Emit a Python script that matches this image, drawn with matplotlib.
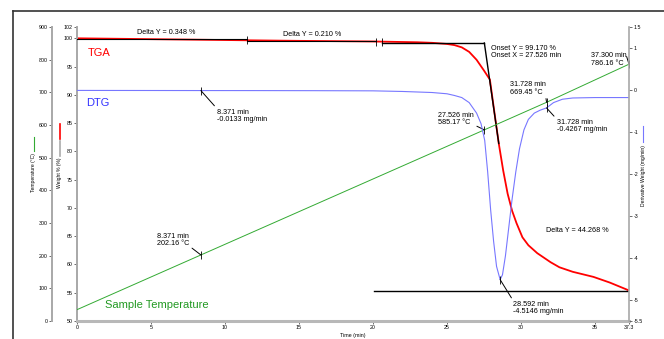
import matplotlib
matplotlib.use('Agg')
import matplotlib.pyplot as plt
from matplotlib.lines import Line2D
import numpy as np

plt.rcParams['font.family'] = ['Liberation Sans', 'DejaVu Sans']

# weight loss (TGA), %
tga_time = [0, 5, 11.5, 15, 20, 23, 24, 25, 25.5, 26, 26.5, 27, 27.5, 27.9, 28.2, 28.5,
            28.8, 29.1, 29.4, 29.7, 30.1, 30.5, 31.1, 32, 32.6, 33.5, 34.9, 36, 37.3]
tga_weight = [100.0, 99.85, 99.65, 99.55, 99.44, 99.3, 99.2, 99.0, 98.8, 98.4, 97.6, 96.2,
              94.3, 92.7, 87.0, 81.4, 76.6, 72.5, 69.5, 67.3, 64.8, 63.4, 62.0, 60.4,
              59.5, 58.7, 57.8, 56.8, 55.4]

# derivative weight (DTG), mg/min
dtg_time = [0, 5, 8.371, 12, 16, 20, 22, 24, 25, 25.5, 26, 26.5, 27, 27.3, 27.55, 27.75,
            27.95, 28.15, 28.35, 28.592, 28.75, 28.95, 29.15, 29.4, 29.65, 29.9, 30.2,
            30.5, 30.9, 31.3, 31.728, 32.2, 32.8, 33.5, 35, 37.3]
dtg_value = [-0.01, -0.012, -0.0133, -0.014, -0.016, -0.02, -0.035, -0.06, -0.09, -0.13,
             -0.18, -0.3, -0.55, -0.8, -1.2, -1.95, -2.85, -3.6, -4.2, -4.5146, -4.4,
             -3.95, -3.35, -2.6, -1.95, -1.4, -0.95, -0.7, -0.55, -0.48, -0.4267, -0.3,
             -0.22, -0.19, -0.18, -0.18]

# sample temperature, degC
temp_time = [0, 8.371, 27.526, 31.728, 37.3]
temp_value = [34.7, 202.16, 585.17, 669.45, 786.16]

x_ticks = [0, 5, 10, 15, 20, 25, 30, 35, 37.3]
x_ticklabels = ['0', '5', '10', '15', '20', '25', '30', '35', '37.3']
w_ticks = [50, 55, 60, 65, 70, 75, 80, 85, 90, 95, 100, 102]
t_ticks = [0, 100, 200, 300, 400, 500, 600, 700, 800, 900]
d_ticks = [-5.5, -5, -4, -3, -2, -1, 0, 1, 1.5]
d_ticklabels = ['-5.5', '-5', '-4', '-3', '-2', '-1', '0', '1', '1.5']

W, H = 664, 339
fig = plt.figure(figsize=(W / 100, H / 100), dpi=100)

def fx(px):
    return px / W

def fy(py):
    return 1 - py / H

ax = fig.add_axes([fx(77), fy(321), fx(629) - fx(77), fy(27) - fy(321)])
ax_t = ax.twinx()
ax_d = ax.twinx()

grey = '#a8a8a8'
tick_fs = 3.8
lab_fs = 3.6
ann_fs = 5.2
tk = dict(labelsize=tick_fs, length=2, width=0.6, color='#555555', pad=1.2)

# weight axis (inner left)
ax.set_xlim(0, 37.3)
ax.set_ylim(50, 102)
ax.set_xticks(x_ticks)
ax.set_xticklabels(x_ticklabels)
ax.set_yticks(w_ticks)
ax.tick_params(axis='both', **tk)
ax.spines['top'].set_visible(False)
ax.spines['right'].set_visible(False)
ax.spines['left'].set_color(grey)
ax.spines['left'].set_linewidth(1.4)
ax.spines['bottom'].set_color('#b8b8b8')
ax.spines['bottom'].set_linewidth(2.2)
ax.set_xlabel('Time (min)', fontsize=tick_fs, labelpad=1.5)

# temperature axis (outer left), 25 px left of the weight axis
ax_t.set_ylim(0, 900)
ax_t.yaxis.set_ticks_position('left')
ax_t.spines['left'].set_position(('outward', 18))
ax_t.spines['left'].set_visible(True)
ax_t.spines['left'].set_color(grey)
ax_t.spines['left'].set_linewidth(1.4)
for s in ['top', 'right', 'bottom']:
    ax_t.spines[s].set_visible(False)
ax_t.set_yticks(t_ticks)
ax_t.tick_params(axis='y', **tk)

# derivative axis (right)
ax_d.set_ylim(-5.5, 1.5)
ax_d.set_yticks(d_ticks)
ax_d.set_yticklabels(d_ticklabels)
for s in ['top', 'left', 'bottom']:
    ax_d.spines[s].set_visible(False)
ax_d.spines['right'].set_color(grey)
ax_d.spines['right'].set_linewidth(1.2)
ax_d.tick_params(axis='y', **tk)

# curves
ax.plot(tga_time, tga_weight, color='#ff0000', lw=1.3, zorder=2)
ax_d.plot(dtg_time, dtg_value, color='#7777ff', lw=0.8)
ax_t.plot(temp_time, temp_value, color='#33aa33', lw=0.7)

# step / onset construction lines on the TGA curve
ax.plot([0, 11.5], [99.9, 99.9], color='black', lw=0.8, zorder=3)
ax.plot([11.5, 20.2], [99.6, 99.6], color='black', lw=0.8, zorder=3)
ax.plot([20.6, 27.526], [99.17, 99.17], color='black', lw=1.0, zorder=3)
ax.plot([27.526, 28.5], [99.17, 81.4], color='black', lw=1.0, zorder=3)
ax.plot([20.1, 37.3], [55.3, 55.3], color='black', lw=1.0, zorder=3)
for xv, yv in [(11.5, 99.75), (20.2, 99.4), (20.6, 99.3)]:
    ax.plot([xv], [yv], marker='|', ms=6, mew=0.6, color='black')

ax.text(6.0, 100.35, 'Delta Y = 0.348 %', fontsize=ann_fs, ha='center', va='bottom')
ax.text(15.9, 100.0, 'Delta Y = 0.210 %', fontsize=ann_fs, ha='center', va='bottom')
ax.text(28.0, 98.9, 'Onset Y = 99.170 %\nOnset X = 27.526 min', fontsize=ann_fs,
        ha='left', va='top', linespacing=1.1)
ax.text(31.7, 66.7, 'Delta Y = 44.268 %', fontsize=ann_fs, ha='left', va='top')

ax.text(0.7, 97.4, 'TGA', color='#ff0000', fontsize=8, ha='left', va='center')
ax.text(0.6, 88.5, 'DTG', color='#3333ff', fontsize=8, ha='left', va='center')
ax.text(1.9, 52.8, 'Sample Temperature', color='#229922', fontsize=8, ha='left', va='center')

# point annotations
def note(a, x, y, txt, off, rel):
    a.plot([x], [y], marker='|', ms=6, mew=0.6, color='black')
    a.annotate(txt, xy=(x, y), xytext=off, textcoords='offset pixels',
               fontsize=ann_fs, ha='left', va='top', linespacing=1.1,
               arrowprops=dict(arrowstyle='-', color='black', lw=0.7,
                               shrinkA=0, shrinkB=0, relpos=rel))

note(ax_t, 8.371, 202.16, '8.371 min\n202.16 °C', (-44, 22), (1, 0.1))
note(ax_d, 8.371, -0.0133, '8.371 min\n-0.0133 mg/min', (16, -18), (0, 1))
note(ax_t, 27.526, 585.17, '27.526 min\n585.17 °C', (-46, 18), (1, 0.1))
note(ax_t, 31.728, 669.45, '31.728 min\n669.45 °C', (-37, 21), (1, 0.1))
note(ax_d, 31.728, -0.4267, '31.728 min\n-0.4267 mg/min', (10, -11), (0, 1))
note(ax_t, 37.3, 786.16, '37.300 min\n786.16 °C', (-38, 12), (1, 0.7))
note(ax_d, 28.592, -4.5146, '28.592 min\n-4.5146 mg/min', (13, -21), (0, 1))

# axis titles with their legend swatches
fig.text(fx(34), fy(153), 'Temperature (°C)', rotation=90, fontsize=lab_fs,
         ha='center', va='top')
fig.add_artist(Line2D([fx(34), fx(34)], [fy(137), fy(151)], color='#33aa33', lw=0.8))
fig.text(fx(60), fy(158), 'Weight % (%)', rotation=90, fontsize=lab_fs,
         ha='center', va='top')
fig.add_artist(Line2D([fx(60), fx(60)], [fy(124), fy(139)], color='#ff0000', lw=1.2))
fig.add_artist(Line2D([fx(60), fx(60)], [fy(141), fy(156)], color='#aaaaaa', lw=1.2))
fig.text(fx(643), fy(145), 'Derivative Weight (mg/min)', rotation=90, fontsize=lab_fs,
         ha='center', va='top')
fig.add_artist(Line2D([fx(643), fx(643)], [fy(126), fy(142)], color='#7777ff', lw=0.8))

# outer frame
fig.add_artist(Line2D([fx(13), fx(664)], [fy(11), fy(11)], color='#333333', lw=1.2))
fig.add_artist(Line2D([fx(13), fx(13)], [fy(11), fy(339)], color='#333333', lw=1.2))

fig.savefig('out.png', dpi=100)
